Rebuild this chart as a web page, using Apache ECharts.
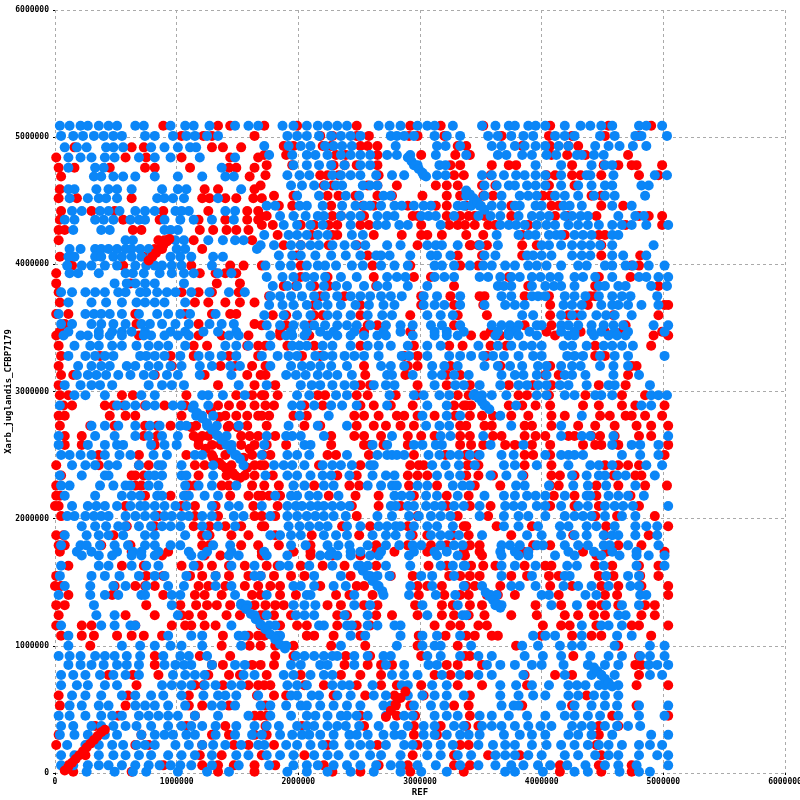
<!DOCTYPE html>
<html>
<head>
    <meta charset="utf-8">
    <title>ECharts</title>
    <script src="https://cdn.jsdelivr.net/npm/echarts@6/dist/echarts.min.js"></script>
    <style type="text/css">
        html, body {
            height: 100%;
            margin: 0;
            background: #fff;
        }
    </style>
</head>
<body>
<div id="main" style="width: 800px;height:800px;"></div>
<script type="text/javascript">
    // values in units of 10 kb; each row is [y, x, x, ...]
    var UNIT = 10000;

    var blueTop = [
        [509,4,12,21,27,36,44,51,66,73,95,107,114,127,148,159,167],
        [501,5,15,23,32,40,48,55,74,82,97,108,115,125,134],
        [492,8,18,26,42,48,56,79,90,101,111,116],
        [484,11,21,30,41,49,69,82,95,119,148],
        [476,11,33,40,137],
        [469,32,38,48,56,66,82,101,121,140,147],
        [459,11,16,34,44,51,63,88,101,108,153],
        [452,12,27,36,42,51,84,90,97,106,134],
        [442,14,22,37,44,53,66,74,82,99,104,110,140,148],
        [435,8,16,33,40,48,62,69,74,90,103,114,129,147],
        [427,15,38,45,90,95,101],
        [419,58,64,93,99,106,126,138,148,155],
        [412,12,21,33,38,44,51,58,63,70,77,100,107,166],
        [406,11,16,33,38,48,55,63,71,79,95,103,112,130,138],
        [399,10,22,30,41,51,66,75,82,88,96,104,129],
        [393,12,19,36,58,64,73,86,96,106,114,134,145],
        [385,49,59,66,74,82,106],
        [378,5,14,25,33,41,52,58,70,75,84,92,99,112,127,143,156],
        [370,11,30,42,55,67,74,82,90,107],
        [361,3,25,32,38,45,55,69,84,93,103,111,132],
        [353,5,14,30,38,48,58,71,78,88,99,110,127,137,147],
        [347,11,36,47,55,63,74,95,107,122,134,149],
        [509,187,196,207,216,224,232,240,266,275,284,298,306,312,327],
        [501,191,199,207,217,227,235,243,251,276,281,287,295,312,322,333],
        [493,172,192,202,210,222,229,236,244,280,314,321,333],
        [486,176,195,207,214,224,235,243,251,259,273,281,292,313,338],
        [478,196,207,217,227,238,251,259,295,298,316,321],
        [470,191,201,209,228,235,243,251,264,277,287,303,314,321],
        [462,194,203,213,222,231,236,253,259,265],
        [454,199,217,239,250,270,276],
        [446,174,181,201,207,220,236,247,254,259,268,279,285,295,303,309,331,336],
        [438,185,196,206,216,221,235,243,251,265,273,279,301,307,313,328],
        [431,188,199,210,220,243,265,272,283,290,317],
        [423,172,192,199,207,216,224,244,253],
        [415,169,180,194,202,210,217,228,238,247,255,273,284,306,313,318,331],
        [407,184,195,202,214,227,239,251,264,268,275,292,309,314,325],
        [399,173,185,194,207,216,222,231,244,253,268,279,290,312,318,328],
        [390,174,187,196,206,213,222,235,248,273,281,288,312,320,328],
        [383,179,191,199,210,221,231,240,254,265,273,290,306],
        [375,177,185,194,203,213,222,232,243,251,259,268,276,285,303,314,333],
        [368,176,187,196,207,216,224,235,247,258,270,279,303,312,320,333],
        [360,172,188,199,210,224,232,243,257,269,277,306,317,327],
        [352,174,185,196,205,213,222,232,240,248,259,272,284,294,309,318,333],
        [347,194,207,218,229,246,270,284,312,322,336],
        [509,351,362,373,378,389,395,403,419,432,440,449,458,480,486,499],
        [501,356,364,375,385,393,411,419,427,448,460,477,482,503],
        [493,359,367,378,386,395,403,414,422,444,455,464,475,486],
        [486,364,371,384,392,404,412,429,433,443,451],
        [478,395,416,441,452,458],
        [470,351,359,369,379,386,395,403,416,437,440,459,493,503],
        [462,353,363,373,378,388,395,403,416,430,441,452,458,482,488],
        [454,338,353,367,382,389,396,411,419,430,443,452,460,485],
        [446,342,349,359,367,378,382,395,400,418,423,433,458,474],
        [438,348,358,366,381,392,399,406,419,425,432,438,463,477,484],
        [431,366,373,379,386,396,404,411,422,430,438,447,458,466,474,486,504],
        [423,363,381,389,395,406,412,416,427,434,441,458,463],
        [415,349,364,400,406,416,425,433,440,448,458,492],
        [407,353,362,388,393,400,408,425,433,440,458,467,486],
        [399,341,352,359,370,378,389,396,404,416,430,437,452,458,469,475,488,501],
        [390,349,356,366,375,382,392,399,407,414,427,434,444,458,480,486,496,504],
        [383,364,369,375,392,403,410,416,427,447,452,463,469,490,503],
        [375,367,375,392,397,403,419,427,436,447,458,466,473,495],
        [368,353,370,378,386,418,425,433,449,458,463,471,482,496],
        [360,384,393,416,425,433,445,453,460,474],
        [352,359,367,374,381,396,400,416,422,430,441,451,459,467,492,504],
        [347,364,373,379,390,416,427,441,449,460,471,501]
    ];

    var redTop = [
        [509,89,134,144],
        [501,104,122,129,164],
        [492,16,63,73,129,138,153],
        [484,1,58,75,104,144,167],
        [476,3,16,45,74,82,111,143,149,164],
        [469,5,160],
        [459,4,123,134,164],
        [452,3,18,63,121,127,140,149,163,170],
        [442,5,30,49,89,126,158,167],
        [435,4,56,86,118,140,158,167],
        [427,3,8,64,71,119,130,141,149,159],
        [419,3,85,90,114,162],
        [412,82,88,121],
        [406,4,74],
        [399,14,56,112,144,155],
        [393,1,119,132,140,149],
        [385,1,62,133,152],
        [378,3,104,118,129,151],
        [370,4,115,126,140,152,164],
        [361,1,11,66,107,129,144,149],
        [353,8,67,118,164],
        [347,4],
        [509,172,199,248,292,317],
        [501,218,228,248,258,291,298,320],
        [493,188,196,220,227,251,257,265,331],
        [486,172,190,231,239,265,301,329],
        [478,174,195,229,238,248,265,325,333],
        [470,173,218,224,233,266,328,336],
        [462,169,221,228,257,265,281,313,322,331],
        [454,180,196,224,233,247,265,277,302,322,333],
        [446,184,195,227,253,262,290,313,322],
        [438,169,174,228,235,254,294,298,322,333],
        [431,170,179,202,213,225,232,251,258,301,324,331],
        [423,183,211,228,232,262,285,301,306,318],
        [415,188,202,225,248,298,342],
        [407,199,257,331],
        [399,170,202,261,292,333],
        [390,202,224,262,295,309],
        [383,188,198,213,225,264,328],
        [375,176,218,238,301,325],
        [368,213,251,301,328],
        [360,179,190,213,220,251,292,331],
        [352,170,190,210,257,265,328],
        [347,185,254,292],
        [509,352,407,455,490],
        [501,367,406,425,452,480],
        [493,338,384,407,422,430],
        [486,341,408,421,436,471],
        [478,359,373,379,425,451,463,474,478,499],
        [470,358,404,411,425,432,449,480,496],
        [462,351,362,406,427],
        [454,352,360,401,407,441,449],
        [446,338,375,408,414,449,467],
        [438,340,345,353,375,411,421,445,480,488,499],
        [431,337,345,356,362,389,469,499],
        [423,338,352,384,419,447,452],
        [415,341,348,355,384,396,449],
        [407,351,384,449,481],
        [399,348,474,480],
        [390,373,447,473],
        [383,389,444,496],
        [375,349,353,386,406,440,444],
        [368,352,407,438,501,504],
        [360,355,407,422,429,459,496],
        [352,386,408,469],
        [347,358,404,432,452,466,499]
    ];

    var blueMid = [
        [344,7,21,27,36,45,55,73,79,90,101,110,143,151],
        [336,16,29,36,47,55,67,77,85,93,107,140,149,159],
        [328,11,25,33,41,48,70,75,82,90,103,118,127,137,149],
        [320,19,30,38,45,59,66,77,85,95,104,119,129,144,152],
        [313,18,27,34,42,52,62,73,81,92,101,119,145],
        [305,8,21,30,37,47,77,88,96,106,151],
        [297,16,25,41,71,82,121,126,138,156],
        [289,4,51,58,66,75,82,97,104,114,126],
        [281,116,121,130],
        [273,30,41,52,66,78,86,103,108,125,133,151],
        [265,3,33,49,66,77,88,101,134,141],
        [258,3,27,41,51,56,79,90,100,145],
        [250,5,12,21,30,41,53,62,81,92,115,121,148],
        [242,14,25,33,44,51,69,85,88,104,130,155],
        [234,4,22,41,44,77,82,88,104,108,130],
        [226,5,12,37,48,58,62,77,85,107,118,129,149],
        [218,8,33,55,63,70,84,88,106,110,123,134],
        [210,14,27,34,41,51,62,70,74,82,90,99,108,129,143,151],
        [202,10,16,25,32,38,44,58,66,74,82,90,96,104,110,121,129,147,155],
        [194,22,33,42,52,58,69,79,88,95,103,121,134,148],
        [187,8,26,36,44,56,74,82,107,125],
        [179,5,21,26,37,49,60,74,82,95,103,130,144],
        [174,18,30,51,64,71,85,110,125,145],
        [344,177,190,195,205,224,232,243,254,265,272,294,312,322,331],
        [336,177,195,201,207,220,228,243,257,266,276,290,306,317],
        [328,170,183,192,199,214,221,228,238,246,254,266,285,291,306,324,333],
        [320,177,194,203,210,218,227,240,268,276,287,310,320,331],
        [313,190,198,206,216,224,232,244,273,277,294,310,318,328],
        [305,174,202,211,218,228,238,246,262,272,279,312,329,336],
        [297,199,209,231,240,275,295,303,316,324],
        [289,195,202,213,227,236,248,273,306,322],
        [281,201,225,302,322,333],
        [273,192,216,240,305,316,324],
        [265,174,190,195,202,221,277,317,325],
        [258,172,205,210,261,273,295,302,313,318],
        [250,170,191,199,209,240,265,273,277,281,287,307,316,325,332],
        [242,180,188,195,205,220,228,235,244,259,262,310,321,332],
        [234,173,191,199,210,220,227,242,261,272,279,314,324,333],
        [226,196,205,221,229,257,268,277,281,298,306,327,335],
        [218,181,194,199,209,216,233,279,285,292,305,314,331],
        [210,170,191,198,203,210,216,221,228,235,242,276,280,290,295,305,312,318,328,336],
        [202,177,191,199,207,214,221,229,239,265,277,291,299,309,317,325],
        [194,192,201,209,217,224,240,251,266,273,280,284,295,306,314,327],
        [187,177,185,194,202,221,231,240,261,272,280,292,309,317,324,332],
        [179,194,206,224,233,242,257,272,283,294,301,317,328,335],
        [174,172,227,243,251,268,295,312,322],
        [344,362,373,381,396,422,427,443,455,462,469],
        [336,348,364,375,385,392,400,418,425,437,451,458,466,475],
        [328,342,352,360,369,381,393,400,421,427,434,448,460,471,501],
        [320,353,364,374,384,397,404,416,425,432,448,459,471],
        [313,340,367,378,385,396,404,419,425,436,459,480],
        [305,349,366,381,388,397,404,415,422,437,455,460,489],
        [297,344,351,359,371,396,404,419,427,444,449,458,490,496,503],
        [289,353,379,482,490],
        [281,366,433],
        [273,375,416],
        [265,352,416,433,440,459,504],
        [258,358,385,458,474,481,496],
        [250,341,349,367,377,403,416,422,427,434,466,481,496],
        [242,345,369,378,396,422,440,447,458,486,499],
        [234,358,371,384,425,437,447,452,462,469,493],
        [226,341,379,386,406,426,438,453,477],
        [218,353,369,378,388,395,403,419,437,440,455,463,471,484],
        [210,349,370,377,384,396,403,416,430,438,452,460,467,475,504],
        [202,349,369,381,389,403,419,427,434,441,452,466,477],
        [194,369,381,397,415,422,437,445,460,477,486,495],
        [187,351,388,400,416,427,437,451,458,463,477,495],
        [179,367,374,382,396,401,419,430,438,451,456,471,496],
        [174,366,378,389,422,443,458,478]
    ];

    var redMid = [
        [344,1,69,118,137,159],
        [336,3,114,125,158,167],
        [328,5,37,95,114,143,167],
        [320,3,96,136,148,162],
        [313,5,15,82,123,158,169],
        [305,3,134,164],
        [297,4,11,55,64,108,149,162,170],
        [289,7,14,41,48,56,74,90,107,134,143,153,164],
        [285,128],
        [281,3,8,45,58,66,104,140,149,158,167],
        [280,135],
        [273,4,29,49,74,84,95,116,143,158],
        [272,112,142,150],
        [265,8,22,73,84,114,121,126,153,160,167],
        [262,118],
        [258,8,22,82,118,129,136,153,164],
        [255,124,160],
        [250,36,69,108,129,140,162,171],
        [248,130,155],
        [244,135],
        [242,1,36,69,77,115,123,137,145,164],
        [240,140,158],
        [236,146],
        [234,5,63,66,73,118,141,148,156,164],
        [232,152],
        [226,1,66,71,110,115,137,143,162],
        [218,1,4,74,95,108,144,159,167],
        [210,0,3,58,104,115,132,163],
        [202,5,85,115,134,164],
        [194,59,82,114,127,140,153,170],
        [187,1,7,48,121,127,145,159],
        [179,3,8,38,62,121,127,153,167],
        [174,4,63,93,170],
        [344,185,209],
        [336,173,191,213,251,295,324,335],
        [328,203,218,287,298],
        [320,173,254,290,298,325],
        [313,173,255,288,322,333],
        [305,181,251,259,298,322],
        [297,172,183,216,222,248,257,280,298,331],
        [289,173,180,205,220,251,262,276,294,328,336],
        [281,170,176,196,207,246,254,266,281,287,298,312,329],
        [273,174,205,218,248,262,272,284,295,333],
        [265,181,227,246,254,268,290,301,312,333],
        [258,174,190,227,254,259,270,290,333],
        [250,177,224,231,258,295,321,338],
        [242,169,172,217,251,292,299,303,339],
        [234,179,232,248,290,298,306],
        [226,172,184,213,242,250,291,314],
        [218,170,176,185,225,247,266,295,322],
        [210,183,244,266,284,322],
        [202,170,181,248,298,331],
        [194,172,236,259,290,336],
        [187,181,211,250,294,306,327],
        [179,184,210,264,290,309,322],
        [174,196,210,264,279,306,336],
        [344,342,353,366,411,492,504],
        [336,358,371,444,490],
        [328,355,444,452],
        [320,366,407,474,478],
        [313,403,414,471],
        [305,341,373,393,408,447,469],
        [297,340,381,388,406,436,466,485],
        [289,338,342,373,384,395,407,434,447,466,477,501],
        [281,341,351,360,375,389,408,419,448,456,469,474,485,499],
        [273,338,353,359,386,392,408,430,444,460,478,490,504],
        [265,341,360,367,386,395,403,422,427,441,448,460,480,490],
        [258,342,352,370,378,392,407,434,444,449,463,504],
        [250,338,347,386,393,407,501],
        [242,340,348,386,408,452,463,471,480],
        [234,338,348,360,385,408,415,427,459,477,482],
        [226,345,366,407,414,445,463,485,503],
        [218,340,410,427,445,473],
        [210,341,358,407,427,447,480],
        [202,356,444,462,493],
        [194,338,363,392,453,504],
        [187,340,375,426,452,488],
        [179,341,349,393,407,463,482],
        [174,349,385,434,453,501]
    ];

    var blueLow = [
        [171,22,36,47,63,71,82,112,121,143,151],
        [163,5,36,44,63,75,85,114,145,164],
        [155,4,30,41,53,69,82,90,108,132,164],
        [147,8,29,48,58,75,93,106,132,145],
        [140,3,29,41,52,71,74,96,103,148],
        [132,32,96,153,158],
        [124,34,49,101,164],
        [116,5,38,49,62,66,145],
        [108,11,93,112,121,151,156],
        [100,11,55,70,82,95,104,121,153],
        [92,3,12,21,33,41,49,59,70,89,103,110,125],
        [85,11,21,30,40,51,59,69,90,99,106,112,129,148,156],
        [77,5,15,25,37,48,58,69,97,107,115,123,155,164],
        [69,5,18,27,41,51,88,96,104,112,123,132,145,153],
        [61,14,25,38,55,66,79,89,104,122,134,140,149,167],
        [53,12,22,36,44,66,74,82,93,107,129,137,148],
        [45,3,12,25,38,47,55,69,77,85,93,101,115,134,159],
        [37,5,15,30,38,48,58,67,79,93,104,112,121,132,149,164],
        [30,4,16,27,41,51,71,82,90,97,108,115,132,148,162],
        [22,10,25,36,47,56,67,74,82,99,110,121,130,140,153,167],
        [14,5,16,36,48,58,69,79,93,104,115,129,149,159],
        [6,5,15,27,36,44,55,66,77,86,95,103,112,129,151],
        [1,26,49,64,75,101,125,143],
        [171,174,191,218,225,232,243,259,266,291,314,331],
        [163,185,192,209,228,251,257,272,292,317,327,336],
        [155,169,213,235,259,265,275,301,310,328],
        [147,196,202,213,229,239,266,292,310,336],
        [140,174,207,210,246,270,291,313,329],
        [132,196,205,214,246,259,302,331],
        [124,174,198,205,213,238,257,306,335],
        [116,176,181,217,221,240,244,257,265,279,284],
        [108,183,185,243,255,284,302,314,333],
        [100,190,235,281,302,312,317],
        [92,198,205,213,221,228,232,246,257,270,276,306,317,333],
        [85,194,202,218,224,246,272,287,307,314],
        [77,188,196,210,221,228,277,287,298,318,333],
        [69,191,199,207,228,236,242,261,285,290,310,322],
        [61,194,199,211,217,232,243,262,272,290,302,312,322,336],
        [53,169,177,190,202,207,218,229,240,251,270,276,295,309,320],
        [45,177,194,207,214,224,235,240,248,257,272,287,294,312,322,331],
        [37,174,184,199,207,213,224,232,239,250,266,279,290,303,312,328,336],
        [30,170,185,195,203,209,218,229,242,248,257,270,279,285,303,312,322,333],
        [22,172,190,199,210,220,229,242,251,259,272,287,294,306,317,327],
        [14,174,185,196,213,224,233,246,259,268,284,306,317,331],
        [6,176,196,207,216,229,240,251,264,276,284,298,313,333],
        [1,191,207,224,243,262,284,301,322],
        [171,367,381,389,411,427,449,464,478,488,501],
        [163,337,367,378,395,421,429,451,478,501],
        [155,367,392,419,423,453,471,480],
        [147,351,375,382,395,418,430,441,455,473,480],
        [140,358,363,400,406,436,445,481,486],
        [132,362,367,408,429,453,466,480],
        [124,338,463,469],
        [116,433,449,455,466],
        [108,393,403,411,433,462,474],
        [100,342,384,397,415,425,433,460,489,501],
        [92,348,359,386,401,416,440,455,466,481,489,501],
        [85,355,366,378,392,400,418,438,452,463,488,495,504],
        [77,348,359,385,419,441,449,460,489,499],
        [69,366,379,392,406,422,429,436,447,452,463],
        [61,366,381,393,403,422,430,443,452,463],
        [53,367,377,381,416,427,441,452,462,480,504],
        [45,349,359,373,388,403,419,427,438,448,463,480,501],
        [37,351,359,367,378,389,399,408,425,433,441,452,462,471,481],
        [30,340,349,369,382,392,403,422,430,441,458,490,504],
        [22,348,360,370,378,392,404,416,427,438,447,455,466,480,489,499],
        [14,342,362,370,378,389,400,419,430,444,455,463,480,495,504],
        [6,348,362,375,385,397,407,421,436,452,463,478,504],
        [1,370,378,401,427,438,464,480,489]
    ];

    var redLow = [
        [171,88,123,136],
        [163,11,55,73,104,118,129,143,156],
        [155,1,75,89,111,121,132,143,159,169],
        [147,0,5,49,66,74,82,118,126,140,156,167],
        [140,11,47,89,115,123,137,162],
        [132,1,8,75,103,116,125,133,144,164],
        [124,3,58,82,104,110,121,141,152,169],
        [116,1,22,30,66,96,107,112,123,132],
        [108,5,22,32,51,63,73,88,138,159,167],
        [100,29,137,160],
        [92,82,119,144],
        [85,82,129,138,162],
        [77,44,64,85,126,143,152],
        [69,67,115,122,138,159,167],
        [61,3,60,110,166],
        [53,4,58,110,121,143],
        [45,52,115,164],
        [37,33,108,140],
        [30,3,71,129,143,164],
        [22,1,66,77,121,147,159],
        [14,25,119,137],
        [6,11,89,121,134,147,164],
        [1,15,63,134,164],
        [171,170,210,228,251,336],
        [163,174,183,202,220,238,264,307,322],
        [155,180,194,205,243,276,294,324,333],
        [147,177,185,218,248,254,298,306,318],
        [140,169,185,198,231,242,261,299,320,333],
        [132,173,181,188,224,235,254,265,296,318,327],
        [124,172,180,194,232,240,264,277,298,318,328],
        [116,169,185,199,207,232,248,259,312,325,333],
        [108,172,207,213,229,251,299,321],
        [100,169,181,196,227,255,298,331],
        [92,181,196,239,259,301],
        [85,169,180,238,257,268,277,322,331],
        [77,174,202,235,251,268,312,325],
        [69,172,177,205,221,248,268,281,301,331],
        [61,180,190,229,255,279,303],
        [53,173,280,292,328],
        [45,169,174,251,281,296],
        [37,173,203,254,295,317],
        [30,174,295,314],
        [22,180,224,265,298,333],
        [14,170,205,294,328],
        [6,181,221,266,290,328],
        [1,228,251,292,336],
        [171,337,351,445],
        [163,342,352,362,386,403,408,444,458,480,496],
        [155,341,349,375,388,406,414,447,459,481,496],
        [147,338,345,366,407,425,449,463,482,504],
        [140,340,355,364,378,414,452,462,504],
        [132,341,351,395,416,441,449,463,485,493],
        [124,340,353,375,396,419,430,443,452,482,493],
        [116,348,355,401,416,423,445,474,480,504],
        [108,338,345,359,364,400,425,441,449,490],
        [100,379,463],
        [92,337,341,426,480],
        [85,351,477,482],
        [77,340,386,411,425,480],
        [69,351,388,478,504],
        [61,341,437],
        [53,340,384,425,478],
        [45,341,458,504],
        [37,338,348,447,463],
        [30,447],
        [22,340,445],
        [14,356,382,449],
        [6,341,415,447,474],
        [1,415,449,474]
    ];

    // diagonal runs, [x, y]
    var blueRuns = [
        [113,287],[117,283],[121,279],[125,275],[129,270],[133,266],[137,262],[141,258],[145,254],[149,250],[152,247],
        [153,133],[157,129],[161,125],[165,121],[169,117],[173,113],[177,109],[181,105],[185,101],[189,98],
        [249,163],[253,159],[257,155],[261,151],[265,147],[269,143],
        [290,484],[293,481],[296,478],[299,475],[302,472],[305,469],
        [338,458],[341,455],[344,452],[347,449],[350,446],[353,443],
        [345,298],[348,295],[351,292],[354,289],[357,286],
        [354,142],[357,139],[360,136],[363,133],[366,130],
        [443,83],[446,80],[449,77],[452,74],[455,71],[458,68]
    ];
    var redRuns = [
        [8,2],[11,5],[14,8],[17,11],[20,14],[23,17],[26,20],[29,23],[32,26],[35,29],[38,32],[41,34],
        [77,403],[80,406],[83,409],[86,412],[89,415],[92,418],[94,420],
        [272,44],[276,49],[280,54],[284,59],[288,64]
    ];

    function fromRows(rows) {
        var pts = [];
        rows.forEach(function (r) {
            for (var i = 1; i < r.length; i++) {
                pts.push([r[i] * UNIT, r[0] * UNIT]);
            }
        });
        return pts;
    }
    function fromPairs(pairs) {
        return pairs.map(function (p) { return [p[0] * UNIT, p[1] * UNIT]; });
    }

    var BLUE = '#0b86f7';
    var RED = '#ff0000';
    var FONT = 'DejaVu Sans Mono';

    var myChart = echarts.init(document.getElementById('main'), null, {renderer: 'canvas'});

    function dots(name, data, color) {
        return {
            name: name,
            type: 'scatter',
            data: data,
            symbol: 'circle',
            symbolSize: 10,
            itemStyle: {color: color, opacity: 1},
            emphasis: {disabled: true},
            silent: true
        };
    }

    function plain(v) {
        return String(v);
    }

    var option = {
        animation: false,
        backgroundColor: '#fff',
        grid: {left: 55, right: 15, top: 10, bottom: 27, containLabel: false, outerBoundsMode: 'none'},
        xAxis: {
            type: 'value',
            min: 0,
            max: 6000000,
            interval: 1000000,
            name: 'REF',
            nameLocation: 'middle',
            nameGap: 15,
            nameMoveOverlap: false,
            nameTextStyle: {fontFamily: FONT, fontSize: 9, fontWeight: 'bold', color: '#000'},
            axisLine: {show: false},
            axisTick: {show: true, length: 2, lineStyle: {color: '#000'}},
            axisLabel: {fontFamily: FONT, fontSize: 8, fontWeight: 'bold', color: '#000', margin: 5, formatter: plain},
            splitLine: {show: true, lineStyle: {type: [3, 3], color: '#aaa', width: 1}}
        },
        yAxis: {
            type: 'value',
            min: 0,
            max: 6000000,
            interval: 1000000,
            name: 'Xarb_juglandis_CFBP7179',
            nameLocation: 'middle',
            nameGap: 42,
            nameMoveOverlap: false,
            nameTextStyle: {fontFamily: FONT, fontSize: 9, fontWeight: 'bold', color: '#000'},
            axisLine: {show: false},
            axisTick: {show: true, length: 2, lineStyle: {color: '#000'}},
            axisLabel: {fontFamily: FONT, fontSize: 8, fontWeight: 'bold', color: '#000', margin: 6, formatter: plain},
            splitLine: {show: true, lineStyle: {type: [3, 3], color: '#aaa', width: 1}}
        },
        series: [
            dots('red', fromRows(redTop.concat(redMid, redLow)), RED),
            dots('blue', fromRows(blueTop.concat(blueMid, blueLow)), BLUE),
            dots('blue runs', fromPairs(blueRuns), BLUE),
            dots('red runs', fromPairs(redRuns), RED)
        ]
    };

    myChart.setOption(option);
</script>
</body>
</html>
